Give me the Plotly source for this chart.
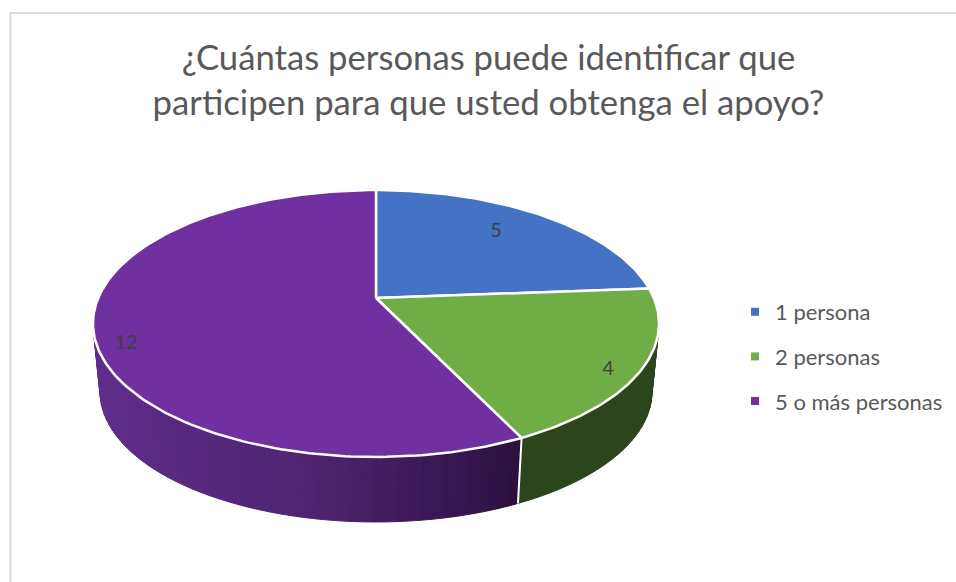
import math
import plotly.graph_objects as go

TITLE_LINES = ["¿Cuántas personas puede identificar que", "participen para que usted obtenga el apoyo?"]
categories = ["1 persona", "2 personas", "5 o más personas"]
values = [5, 4, 12]

top_colors = ["#4472C4", "#70AD47", "#7030A0"]
side_colors = ["#223A5E", "#2D451C", None]
FONT = "Lato"

# Projection of the pie disc (pixel space of the 956x582 page)
CX, CY, A, B, K = 376.0, 298.0, 277.8, 128.6, 0.191
BOTTOM_SCALE, BOTTOM_DY = 0.975, 69.0


def project(deg, r=1.0):
    t = math.radians(deg)
    u, v = r * math.sin(t), -r * math.cos(t)
    w = 1 - K * v
    return A * u / w, B * v / w


def top(deg):
    x, y = project(deg)
    return CX + x, CY + y


def bottom(deg):
    x, y = project(deg)
    return CX + x * BOTTOM_SCALE, CY + y * BOTTOM_SCALE + BOTTOM_DY


GRAD = [(90, (0x60, 0x2D, 0x8C)), (300, (0x4F, 0x24, 0x72)), (420, (0x3D, 0x1A, 0x58)), (520, (0x2B, 0x10, 0x3F))]


def gradient(x):
    if x <= GRAD[0][0]:
        c = GRAD[0][1]
    elif x >= GRAD[-1][0]:
        c = GRAD[-1][1]
    else:
        for (x0, c0), (x1, c1) in zip(GRAD, GRAD[1:]):
            if x0 <= x <= x1:
                f = (x - x0) / (x1 - x0)
                c = tuple(round(a + (b - a) * f) for a, b in zip(c0, c1))
                break
    return "rgb(%d,%d,%d)" % c


total = sum(values)
edges = [0.0]
for val in values:
    edges.append(edges[-1] + 360.0 * val / total)

fig = go.Figure()

# side wall
for i in range(len(values)):
    a0, a1 = edges[i], edges[i + 1]
    n = max(2, int((a1 - a0) / 2))
    for j in range(n):
        d0, d1 = a0 + (a1 - a0) * j / n, a0 + (a1 - a0) * (j + 1) / n
        mid = (d0 + d1) / 2
        if -math.cos(math.radians(mid)) < -0.3:
            continue
        p = [top(d0), top(d1), bottom(d1), bottom(d0), top(d0)]
        col = side_colors[i] or gradient(sum(q[0] for q in p[:4]) / 4)
        fig.add_trace(go.Scatter(x=[q[0] for q in p], y=[q[1] for q in p], mode="lines", fill="toself",
                                 fillcolor=col, line=dict(color=col, width=1), hoverinfo="skip", showlegend=False))

# white seam between wall sections at the front
bx, by = zip(top(edges[2]), bottom(edges[2]))
fig.add_trace(go.Scatter(x=list(bx), y=list(by), mode="lines", line=dict(color="white", width=2),
                         hoverinfo="skip", showlegend=False))

# top faces
for i in range(len(values)):
    a0, a1 = edges[i], edges[i + 1]
    n = int(a1 - a0) + 1
    arc = [top(a0 + (a1 - a0) * j / n) for j in range(n + 1)]
    pts = [(CX, CY)] + arc + [(CX, CY)]
    fig.add_trace(go.Scatter(x=[q[0] for q in pts], y=[q[1] for q in pts], mode="lines", fill="toself",
                             fillcolor=top_colors[i], line=dict(color="white", width=2.5),
                             name=categories[i], showlegend=False, hoverinfo="skip"))

# data labels
label_x = [496, 608, 126]
label_y = [232, 370, 344]
fig.add_trace(go.Scatter(x=label_x, y=label_y, mode="text", text=[str(v) for v in values],
                         textfont=dict(family=FONT, size=20, color="#404040"), showlegend=False, hoverinfo="skip"))

# legend entries
for i in range(len(values)):
    fig.add_trace(go.Scatter(x=[None], y=[None], mode="markers", name=categories[i], legendgroup=categories[i],
                             marker=dict(symbol="square", size=8, color=top_colors[i])))

fig.update_layout(
    width=956, height=582, autosize=False,
    margin=dict(l=0, r=0, t=0, b=0),
    paper_bgcolor="white", plot_bgcolor="white",
    title=dict(text="<br>".join(TITLE_LINES), x=488.5 / 956, xanchor="center", y=1 - 70 / 582, yanchor="top",
               font=dict(family=FONT, size=34.7, color="#595959")),
    xaxis=dict(range=[0, 956], visible=False, fixedrange=True),
    yaxis=dict(range=[582, 0], visible=False, fixedrange=True),
    legend=dict(x=735 / 956, xanchor="left", y=1 - 291 / 582, yanchor="top", tracegroupgap=13,
                font=dict(family=FONT, size=22, color="#595959"), bgcolor="rgba(0,0,0,0)", itemwidth=30),
    shapes=[
        dict(type="line", xref="x", yref="y", x0=10.5, x1=10.5, y0=13, y1=582, line=dict(color="#D9D9D9", width=2)),
        dict(type="line", xref="x", yref="y", x0=10, x1=956, y0=13, y1=13, line=dict(color="#D9D9D9", width=2)),
    ],
)

fig.write_html("out.html", post_script="document.body.style.margin='0';document.documentElement.style.overflow='hidden';",
               config={"displayModeBar": False})
